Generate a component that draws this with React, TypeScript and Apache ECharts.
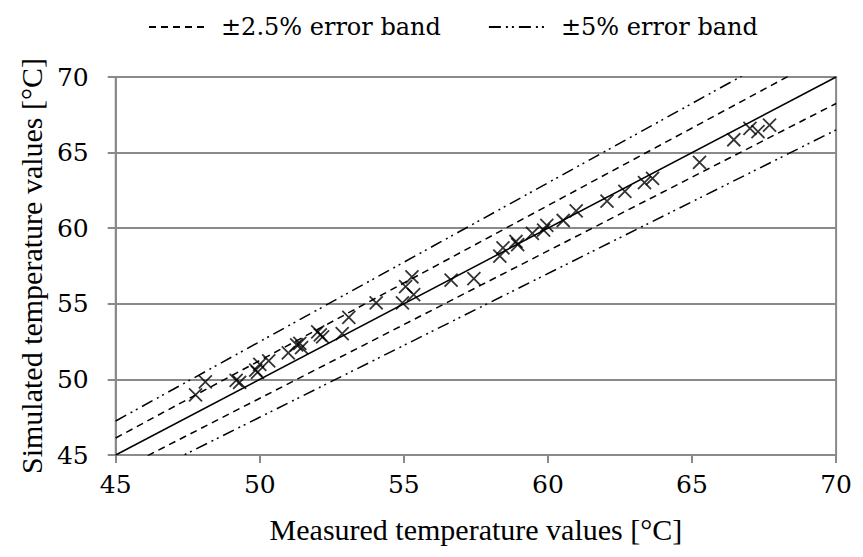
import React, { useEffect, useRef } from "react";
import * as echarts from "echarts";

const axisMin = 45;
const axisMax = 70;
const axisStep = 5;

// Measured (x) vs simulated (y) temperatures [°C]
const measured = [
  47.77, 48.11, 49.18, 49.3, 49.86, 49.92, 50.0, 50.31, 50.99, 51.28, 51.39, 51.45,
  52.01, 52.18, 52.1, 52.86, 53.09, 54.04, 54.95, 55.06, 55.28, 55.34, 56.64, 57.43,
  58.33, 58.44, 58.89, 58.95, 59.46, 59.85, 59.96, 60.53, 60.98, 62.05, 62.67, 63.35,
  63.63, 65.26, 66.45, 67.01, 67.29, 67.69,
];
const simulated = [
  48.97, 49.83, 49.94, 49.8, 50.62, 50.47, 51.0, 51.22, 51.75, 52.29, 52.39, 52.1,
  53.14, 52.82, 52.95, 53.03, 54.1, 55.06, 55.06, 56.13, 56.78, 55.6, 56.56, 56.67,
  58.16, 58.7, 59.12, 58.91, 59.66, 59.87, 60.19, 60.51, 61.15, 61.79, 62.44, 63.01,
  63.29, 64.36, 65.85, 66.6, 66.39, 66.81,
];

// Reference lines (end points)
const lineX = [45, 70];
const identityY = [45, 70];
const band25UpperY = [46.125, 71.75];
const band25LowerY = [43.875, 68.25];
const band5UpperY = [47.25, 73.5];
const band5LowerY = [42.75, 66.5];

const legendBand25 = "±2.5% error band";
const legendBand5 = "±5% error band";
const xTitle = "Measured temperature values [°C]";
const yTitle = "Simulated temperature values [°C]";

const NAME_FONT = "Liberation Serif";
const LABEL_FONT = "DejaVu Serif";
const GRID_COLOR = "#8a8a8a";

const pairs = (xs: number[], ys: number[]) => xs.map((x, i) => [x, ys[i]]);

export default function App() {
  const ref = useRef<HTMLDivElement>(null);
  useEffect(() => {
    if (!ref.current) return;
    const chart = echarts.init(ref.current, null, { renderer: "svg" });
    const dashDotDot = [12, 5, 2, 4, 2, 5];
    const dashed = [7, 5];
    const nameStyle = { fontFamily: NAME_FONT, fontSize: 30, color: "#000" };
    const tickStyle = { fontFamily: LABEL_FONT, fontSize: 25, color: "#000" };
    chart.setOption({
      animation: false,
      backgroundColor: "#ffffff",
      legend: {
        top: 2,
        left: 135,
        itemWidth: 57,
        itemHeight: 14,
        itemGap: 47,
        itemStyle: { opacity: 0 },
        textStyle: { fontFamily: LABEL_FONT, fontSize: 24, color: "#000", padding: [0, 0, 0, 10] },
        data: [legendBand25, legendBand5],
      },
      grid: { left: 98, right: 10, top: 69, bottom: 82, show: true, borderColor: GRID_COLOR, borderWidth: 2 },
      xAxis: {
        type: "value",
        min: axisMin,
        max: axisMax,
        interval: axisStep,
        name: xTitle,
        nameLocation: "middle",
        nameGap: 59,
        nameTextStyle: nameStyle,
        axisLine: { show: true, onZero: false, lineStyle: { color: GRID_COLOR, width: 2 } },
        axisTick: { show: true, length: 8, lineStyle: { color: GRID_COLOR, width: 2 } },
        axisLabel: { ...tickStyle, margin: 17 },
        splitLine: { show: false },
      },
      yAxis: {
        type: "value",
        min: axisMin,
        max: axisMax,
        interval: axisStep,
        name: yTitle,
        nameLocation: "middle",
        nameGap: 66,
        nameTextStyle: nameStyle,
        axisLine: { show: true, onZero: false, lineStyle: { color: GRID_COLOR, width: 2 } },
        axisTick: { show: true, length: 8, lineStyle: { color: GRID_COLOR, width: 2 } },
        axisLabel: { ...tickStyle, margin: 27 },
        splitLine: { show: true, lineStyle: { color: GRID_COLOR, width: 2 } },
      },
      series: [
        { name: legendBand5, type: "line", data: pairs(lineX, band5UpperY), symbol: "none", itemStyle: { color: "#000" }, lineStyle: { color: "#000", width: 1.5, type: dashDotDot } },
        { name: legendBand5, type: "line", data: pairs(lineX, band5LowerY), symbol: "none", itemStyle: { color: "#000" }, lineStyle: { color: "#000", width: 1.5, type: dashDotDot } },
        { name: legendBand25, type: "line", data: pairs(lineX, band25UpperY), symbol: "none", itemStyle: { color: "#000" }, lineStyle: { color: "#000", width: 1.5, type: dashed } },
        { name: legendBand25, type: "line", data: pairs(lineX, band25LowerY), symbol: "none", itemStyle: { color: "#000" }, lineStyle: { color: "#000", width: 1.5, type: dashed } },
        { name: "identity", type: "line", data: pairs(lineX, identityY), symbol: "none", itemStyle: { color: "#000" }, lineStyle: { color: "#000", width: 1.5 } },
        {
          name: "points",
          type: "scatter",
          data: pairs(measured, simulated),
          symbol: "path://M0,0L10,10M10,0L0,10",
          symbolSize: 13,
          itemStyle: { color: "transparent", borderColor: "#000", borderWidth: 1.8 },
          z: 5,
        },
      ],
    });
    return () => chart.dispose();
  }, []);
  return <div ref={ref} style={{ width: 847, height: 541 }} />;
}
